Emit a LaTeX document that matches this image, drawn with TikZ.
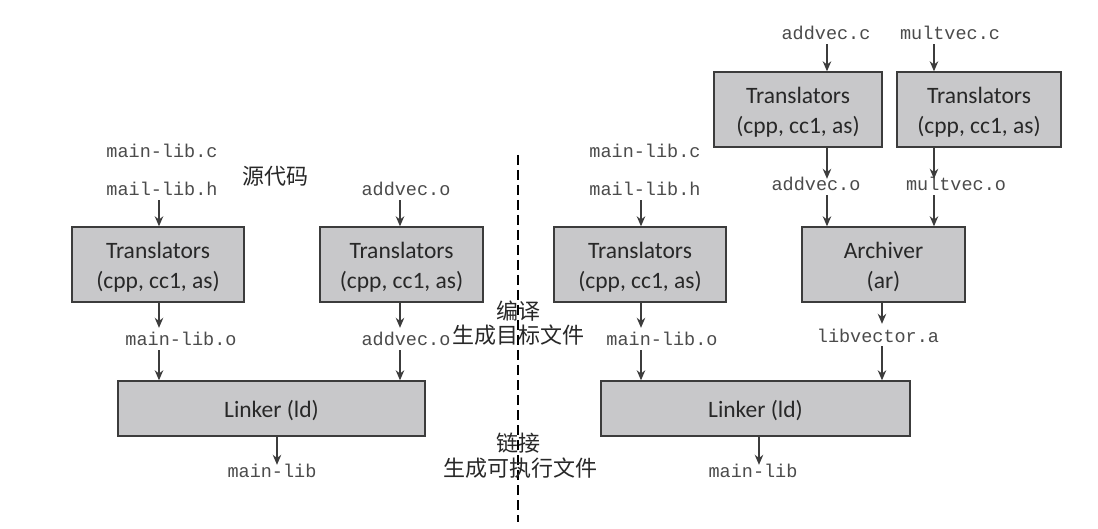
\documentclass[tikz,border=0pt]{standalone}
\usepackage{fontspec}
\setmainfont{Carlito}
\newfontfamily\monof{Liberation Mono}
\newfontfamily\cjk{Noto Sans CJK SC}
\usetikzlibrary{arrows.meta}
\definecolor{boxfill}{RGB}{200,200,202}
\definecolor{boxline}{RGB}{60,60,60}
\definecolor{txt}{RGB}{40,40,40}
\definecolor{monoc}{RGB}{75,75,75}
\begin{document}
\begin{tikzpicture}[x=1pt,y=-1pt,
 proc/.style={draw=boxline, fill=boxfill, line width=1.4pt, inner sep=0pt},
 ptext/.style={inner sep=0pt, align=center, font=\fontsize{23.5}{30}\selectfont, text=txt, yshift=-2.5pt},
 fname/.style={font=\monof\fontsize{18.5}{20}\selectfont, text=monoc, inner sep=0pt, text height=12pt, text depth=4pt},
 note/.style={font=\cjk\fontsize{22}{26}\selectfont, text=txt, inner sep=0pt},
 arr/.style={-{Stealth[length=10pt,width=8.5pt]}, line width=1.4pt, draw=boxline},
 arrl/.style={arr, shorten >=6pt},
 sep/.style={dash pattern=on 10pt off 5pt, line width=1.2pt, draw=black}]
\useasboundingbox[fill=white] (0,0) rectangle (1098,529);

% dashed separator
\coordinate (dtop) at (518,155);
\coordinate (dbot) at (518,522);
\draw[sep] (dtop) -- (dbot);

% arrow x positions
\coordinate (a1) at (159,0);
\coordinate (a2) at (400,0);
\coordinate (a3) at (641,0);
\coordinate (a4) at (827,0);
\coordinate (a5) at (934,0);
\coordinate (a6) at (882,0);
\coordinate (a7) at (277,0);
\coordinate (a8) at (759,0);

% ---- left part ----
\node[fname] (mlc) at (162,154) {main-lib.c};
\node[fname] (mlh) at (162,192) {mail-lib.h};
\node[note] (src) at (275,176) {源代码};
\node[fname] (avo1) at (406,192) {addvec.o};
\node[proc, minimum width=172pt, minimum height=75pt] (L1) at (158,264.5) {};
\node[ptext] (L1t) at (L1.center) {Translators\\(cpp, cc1, as)};
\node[proc, minimum width=163pt, minimum height=75pt] (L2) at (401.5,264.5) {};
\node[ptext] (L2t) at (L2.center) {Translators\\(cpp, cc1, as)};
\node[fname] (mlo) at (181,342) {main-lib.o};
\node[fname] (avo2) at (406,342) {addvec.o};
\node[proc, minimum width=307pt, minimum height=55pt] (LK1) at (271.5,408.5) {};
\node[ptext] (LK1t) at (LK1.center) {Linker (ld)};
\node[fname] (ml1) at (272,473) {main-lib};

% ---- middle notes ----
\node[note] (by) at (518,311) {编译};
\node[note] (scmb) at (518,335) {生成目标文件};
\node[note] (lj) at (518,443) {链接};
\node[note] (sckz) at (520,468) {生成可执行文件};

% ---- right part ----
\node[fname] (rmlc) at (645,154) {main-lib.c};
\node[fname] (rmlh) at (645,192) {mail-lib.h};
\node[proc, minimum width=172pt, minimum height=75pt] (R1) at (640,264.5) {};
\node[ptext] (R1t) at (R1.center) {Translators\\(cpp, cc1, as)};
\node[fname] (rmlo) at (662,342) {main-lib.o};
\node[fname] (avc) at (826,36) {addvec.c};
\node[fname] (mvc) at (950,36) {multvec.c};
\node[proc, minimum width=168pt, minimum height=75pt] (T1) at (798,109.5) {};
\node[ptext] (T1t) at (T1.center) {Translators\\(cpp, cc1, as)};
\node[proc, minimum width=164pt, minimum height=75pt] (T2) at (979,109.5) {};
\node[ptext] (T2t) at (T2.center) {Translators\\(cpp, cc1, as)};
\node[fname] (avo3) at (816,187) {addvec.o};
\node[fname] (mvo) at (956,187) {multvec.o};
\node[proc, minimum width=163pt, minimum height=75pt] (AR) at (883.5,264.5) {};
\node[ptext] (ARt) at (AR.center) {Archiver\\(ar)};
\node[fname] (lva) at (878,338) {libvector.a};
\node[proc, minimum width=309pt, minimum height=55pt] (LK2) at (755.5,408.5) {};
\node[ptext] (LK2t) at (LK2.center) {Linker (ld)};
\node[fname] (ml2) at (753,473) {main-lib};

% ---- arrows left ----
\draw[arr] (mlh.south -| a1) -- (L1.north -| a1);
\draw[arrl] (L1.south -| a1) -- (mlo.north -| a1);
\draw[arr] (mlo.south -| a1) -- (LK1.north -| a1);
\draw[arr] (avo1.south -| a2) -- (L2.north -| a2);
\draw[arrl] (L2.south -| a2) -- (avo2.north -| a2);
\draw[arr] (avo2.south -| a2) -- (LK1.north -| a2);
\draw[arr] (LK1.south -| a7) -- (ml1.north -| a7);

% ---- arrows right ----
\draw[arr] (rmlh.south -| a3) -- (R1.north -| a3);
\draw[arrl] (R1.south -| a3) -- (rmlo.north -| a3);
\draw[arr] (rmlo.south -| a3) -- (LK2.north -| a3);
\draw[arr] (avc.south -| a4) -- (T1.north -| a4);
\draw[arr] (T1.south -| a4) -- (avo3.north -| a4);
\draw[arr] (avo3.south -| a4) -- (AR.north -| a4);
\draw[arr] (mvc.south -| a5) -- (T2.north -| a5);
\draw[arr] (T2.south -| a5) -- (mvo.north -| a5);
\draw[arr] (mvo.south -| a5) -- (AR.north -| a5);
\draw[arrl] (AR.south -| a6) -- (lva.north -| a6);
\draw[arr] (lva.south -| a6) -- (LK2.north -| a6);
\draw[arr] (LK2.south -| a8) -- (ml2.north -| a8);
\end{tikzpicture}
\end{document}
